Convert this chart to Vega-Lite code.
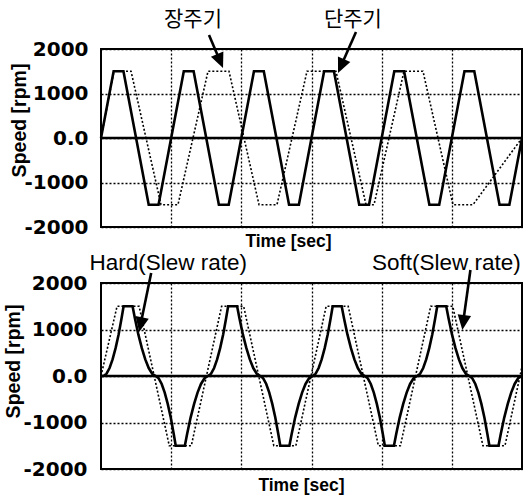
{
  "$schema": "https://vega.github.io/schema/vega-lite/v6.json",
  "background": "white",
  "padding": {"left": 2, "top": 7, "right": 0, "bottom": 0},
  "bounds": "flush",
  "spacing": 56,
  "config": {
    "view": {"stroke": "black", "strokeWidth": 2},
    "axis": {"domain": false, "ticks": false, "gridColor": "black", "gridDash": [2, 2], "gridWidth": 1.3, "gridOpacity": 1},
    "text": {"color": "black"}
  },
  "datasets": {
    "top": [
      {"t": 0, "v": 0, "s": "short"}, {"t": 0.18, "v": 1500, "s": "short"}, {"t": 0.32, "v": 1500, "s": "short"}, {"t": 0.68, "v": -1500, "s": "short"}, {"t": 0.82, "v": -1500, "s": "short"},
      {"t": 1.18, "v": 1500, "s": "short"}, {"t": 1.32, "v": 1500, "s": "short"}, {"t": 1.68, "v": -1500, "s": "short"}, {"t": 1.82, "v": -1500, "s": "short"},
      {"t": 2.18, "v": 1500, "s": "short"}, {"t": 2.32, "v": 1500, "s": "short"}, {"t": 2.68, "v": -1500, "s": "short"}, {"t": 2.82, "v": -1500, "s": "short"},
      {"t": 3.18, "v": 1500, "s": "short"}, {"t": 3.32, "v": 1500, "s": "short"}, {"t": 3.68, "v": -1500, "s": "short"}, {"t": 3.82, "v": -1500, "s": "short"},
      {"t": 4.18, "v": 1500, "s": "short"}, {"t": 4.32, "v": 1500, "s": "short"}, {"t": 4.68, "v": -1500, "s": "short"}, {"t": 4.82, "v": -1500, "s": "short"},
      {"t": 5.18, "v": 1500, "s": "short"}, {"t": 5.32, "v": 1500, "s": "short"}, {"t": 5.68, "v": -1500, "s": "short"}, {"t": 5.82, "v": -1500, "s": "short"},
      {"t": 6.0, "v": 0, "s": "short"},
      {"t": 0, "v": 0, "s": "long"}, {"t": 0.185, "v": 1500, "s": "long"}, {"t": 0.428, "v": 1500, "s": "long"}, {"t": 0.855, "v": -1500, "s": "long"},
      {"t": 1.097, "v": -1500, "s": "long"}, {"t": 1.525, "v": 1500, "s": "long"}, {"t": 1.824, "v": 1500, "s": "long"}, {"t": 2.252, "v": -1500, "s": "long"},
      {"t": 2.508, "v": -1500, "s": "long"}, {"t": 2.936, "v": 1500, "s": "long"}, {"t": 3.349, "v": 1500, "s": "long"}, {"t": 3.777, "v": -1500, "s": "long"},
      {"t": 3.891, "v": -1500, "s": "long"}, {"t": 4.318, "v": 1500, "s": "long"}, {"t": 4.589, "v": 1500, "s": "long"}, {"t": 5.016, "v": -1500, "s": "long"},
      {"t": 5.301, "v": -1500, "s": "long"}, {"t": 6.0, "v": 0, "s": "long"}
    ],
    "bottom": [
      {"t": 0.0, "v": 0, "s": "hard"}, {"t": 0.036, "v": 0, "s": "hard"}, {"t": 0.079, "v": 49, "s": "hard"}, {"t": 0.122, "v": 171, "s": "hard"}, {"t": 0.165, "v": 357, "s": "hard"}, {"t": 0.208, "v": 599, "s": "hard"}, {"t": 0.251, "v": 894, "s": "hard"}, {"t": 0.293, "v": 1240, "s": "hard"}, {"t": 0.322, "v": 1500, "s": "hard"},
      {"t": 0.450, "v": 1500, "s": "hard"}, {"t": 0.483, "v": 1240, "s": "hard"}, {"t": 0.532, "v": 894, "s": "hard"}, {"t": 0.582, "v": 599, "s": "hard"}, {"t": 0.631, "v": 357, "s": "hard"}, {"t": 0.680, "v": 171, "s": "hard"}, {"t": 0.730, "v": 49, "s": "hard"}, {"t": 0.779, "v": 0, "s": "hard"},
      {"t": 0.822, "v": -49, "s": "hard"}, {"t": 0.865, "v": -171, "s": "hard"}, {"t": 0.908, "v": -357, "s": "hard"}, {"t": 0.951, "v": -599, "s": "hard"}, {"t": 0.994, "v": -894, "s": "hard"}, {"t": 1.036, "v": -1240, "s": "hard"}, {"t": 1.065, "v": -1500, "s": "hard"},
      {"t": 1.195, "v": -1500, "s": "hard"}, {"t": 1.228, "v": -1240, "s": "hard"}, {"t": 1.277, "v": -894, "s": "hard"}, {"t": 1.327, "v": -599, "s": "hard"}, {"t": 1.376, "v": -357, "s": "hard"}, {"t": 1.425, "v": -171, "s": "hard"}, {"t": 1.475, "v": -49, "s": "hard"}, {"t": 1.524, "v": 0, "s": "hard"},
      {"t": 1.569, "v": 49, "s": "hard"}, {"t": 1.612, "v": 171, "s": "hard"}, {"t": 1.655, "v": 357, "s": "hard"}, {"t": 1.698, "v": 599, "s": "hard"}, {"t": 1.741, "v": 894, "s": "hard"}, {"t": 1.783, "v": 1240, "s": "hard"}, {"t": 1.812, "v": 1500, "s": "hard"},
      {"t": 1.940, "v": 1500, "s": "hard"}, {"t": 1.973, "v": 1240, "s": "hard"}, {"t": 2.022, "v": 894, "s": "hard"}, {"t": 2.072, "v": 599, "s": "hard"}, {"t": 2.121, "v": 357, "s": "hard"}, {"t": 2.170, "v": 171, "s": "hard"}, {"t": 2.220, "v": 49, "s": "hard"}, {"t": 2.269, "v": 0, "s": "hard"},
      {"t": 2.312, "v": -49, "s": "hard"}, {"t": 2.355, "v": -171, "s": "hard"}, {"t": 2.398, "v": -357, "s": "hard"}, {"t": 2.441, "v": -599, "s": "hard"}, {"t": 2.484, "v": -894, "s": "hard"}, {"t": 2.526, "v": -1240, "s": "hard"}, {"t": 2.555, "v": -1500, "s": "hard"},
      {"t": 2.685, "v": -1500, "s": "hard"}, {"t": 2.718, "v": -1240, "s": "hard"}, {"t": 2.767, "v": -894, "s": "hard"}, {"t": 2.817, "v": -599, "s": "hard"}, {"t": 2.866, "v": -357, "s": "hard"}, {"t": 2.915, "v": -171, "s": "hard"}, {"t": 2.965, "v": -49, "s": "hard"}, {"t": 3.014, "v": 0, "s": "hard"},
      {"t": 3.059, "v": 49, "s": "hard"}, {"t": 3.102, "v": 171, "s": "hard"}, {"t": 3.145, "v": 357, "s": "hard"}, {"t": 3.188, "v": 599, "s": "hard"}, {"t": 3.231, "v": 894, "s": "hard"}, {"t": 3.273, "v": 1240, "s": "hard"}, {"t": 3.302, "v": 1500, "s": "hard"},
      {"t": 3.430, "v": 1500, "s": "hard"}, {"t": 3.463, "v": 1240, "s": "hard"}, {"t": 3.512, "v": 894, "s": "hard"}, {"t": 3.562, "v": 599, "s": "hard"}, {"t": 3.611, "v": 357, "s": "hard"}, {"t": 3.660, "v": 171, "s": "hard"}, {"t": 3.710, "v": 49, "s": "hard"}, {"t": 3.759, "v": 0, "s": "hard"},
      {"t": 3.802, "v": -49, "s": "hard"}, {"t": 3.845, "v": -171, "s": "hard"}, {"t": 3.888, "v": -357, "s": "hard"}, {"t": 3.931, "v": -599, "s": "hard"}, {"t": 3.974, "v": -894, "s": "hard"}, {"t": 4.016, "v": -1240, "s": "hard"}, {"t": 4.045, "v": -1500, "s": "hard"},
      {"t": 4.175, "v": -1500, "s": "hard"}, {"t": 4.208, "v": -1240, "s": "hard"}, {"t": 4.257, "v": -894, "s": "hard"}, {"t": 4.307, "v": -599, "s": "hard"}, {"t": 4.356, "v": -357, "s": "hard"}, {"t": 4.405, "v": -171, "s": "hard"}, {"t": 4.455, "v": -49, "s": "hard"}, {"t": 4.504, "v": 0, "s": "hard"},
      {"t": 4.549, "v": 49, "s": "hard"}, {"t": 4.592, "v": 171, "s": "hard"}, {"t": 4.635, "v": 357, "s": "hard"}, {"t": 4.678, "v": 599, "s": "hard"}, {"t": 4.721, "v": 894, "s": "hard"}, {"t": 4.763, "v": 1240, "s": "hard"}, {"t": 4.792, "v": 1500, "s": "hard"},
      {"t": 4.920, "v": 1500, "s": "hard"}, {"t": 4.953, "v": 1240, "s": "hard"}, {"t": 5.002, "v": 894, "s": "hard"}, {"t": 5.052, "v": 599, "s": "hard"}, {"t": 5.101, "v": 357, "s": "hard"}, {"t": 5.150, "v": 171, "s": "hard"}, {"t": 5.200, "v": 49, "s": "hard"}, {"t": 5.249, "v": 0, "s": "hard"},
      {"t": 5.292, "v": -49, "s": "hard"}, {"t": 5.335, "v": -171, "s": "hard"}, {"t": 5.378, "v": -357, "s": "hard"}, {"t": 5.421, "v": -599, "s": "hard"}, {"t": 5.464, "v": -894, "s": "hard"}, {"t": 5.506, "v": -1240, "s": "hard"}, {"t": 5.535, "v": -1500, "s": "hard"},
      {"t": 5.665, "v": -1500, "s": "hard"}, {"t": 5.698, "v": -1240, "s": "hard"}, {"t": 5.747, "v": -894, "s": "hard"}, {"t": 5.797, "v": -599, "s": "hard"}, {"t": 5.846, "v": -357, "s": "hard"}, {"t": 5.895, "v": -171, "s": "hard"}, {"t": 5.945, "v": -49, "s": "hard"}, {"t": 5.994, "v": 0, "s": "hard"},
      {"t": 0.0, "v": 0, "s": "soft"}, {"t": 0.229, "v": 1500, "s": "soft"}, {"t": 0.543, "v": 1500, "s": "soft"}, {"t": 0.973, "v": -1500, "s": "soft"}, {"t": 1.287, "v": -1500, "s": "soft"},
      {"t": 1.719, "v": 1500, "s": "soft"}, {"t": 2.033, "v": 1500, "s": "soft"}, {"t": 2.463, "v": -1500, "s": "soft"}, {"t": 2.777, "v": -1500, "s": "soft"},
      {"t": 3.209, "v": 1500, "s": "soft"}, {"t": 3.523, "v": 1500, "s": "soft"}, {"t": 3.953, "v": -1500, "s": "soft"}, {"t": 4.267, "v": -1500, "s": "soft"},
      {"t": 4.699, "v": 1500, "s": "soft"}, {"t": 5.013, "v": 1500, "s": "soft"}, {"t": 5.443, "v": -1500, "s": "soft"}, {"t": 5.757, "v": -1500, "s": "soft"},
      {"t": 6.0, "v": 200, "s": "soft"}
    ]
  },
  "vconcat": [
    {
      "width": 421,
      "height": 178,
      "encoding": {
        "x": {"field": "t", "type": "quantitative", "scale": {"domain": [0, 6], "nice": false, "zero": false},
              "axis": {"values": [1, 2, 3, 4, 5], "labels": false, "title": "Time [sec]", "titleFont": "Liberation Sans", "titleFontSize": 17.5, "titleFontWeight": "bold", "titleColor": "black", "titleBaseline": "middle", "titleX": 187, "titleY": 14}},
        "y": {"field": "v", "type": "quantitative", "scale": {"domain": [-2000, 2000], "nice": false},
              "axis": {"values": [-2000, -1000, 0, 1000, 2000], "labelExpr": "datum.value == 0 ? '0.0' : '' + datum.value", "labelFont": "DejaVu Sans", "labelFontWeight": "bold", "labelFontSize": 20, "labelPadding": 13, "labelColor": "black",
                       "title": "Speed [rpm]", "titleFont": "Liberation Sans", "titleFontSize": 19.5, "titleFontWeight": "bold", "titleBaseline": "middle", "titleX": -82, "titleY": 71, "titleColor": "black"}}
      },
      "layer": [
        {"data": {"name": "top"}, "transform": [{"filter": "datum.s == 'long'"}], "mark": {"type": "line", "color": "black", "strokeWidth": 1.6, "strokeDash": [2, 2]}},
        {"data": {"name": "top"}, "transform": [{"filter": "datum.s == 'short'"}], "mark": {"type": "line", "color": "black", "strokeWidth": 2.6}},
        {"data": {"values": [{"v": 0}]}, "mark": {"type": "rule", "color": "black", "strokeWidth": 2.4}, "encoding": {"x": {"value": 0}, "x2": {"value": 421}}},
        {"data": {"values": [{"t": 1.311, "v": 2652, "label": "장주기"}, {"t": 3.591, "v": 2652, "label": "단주기"}]},
         "mark": {"type": "text", "font": "Noto Sans CJK KR", "fontSize": 21, "clip": false, "baseline": "middle"}, "encoding": {"text": {"field": "label"}}},
        {"data": {"values": [{"a": 1, "t": 1.539, "v": 2315}, {"a": 1, "t": 1.70, "v": 1720}, {"a": 2, "t": 3.634, "v": 2382}, {"a": 2, "t": 3.42, "v": 1620}]},
         "mark": {"type": "line", "color": "black", "strokeWidth": 2.6, "clip": false}, "encoding": {"detail": {"field": "a"}}},
        {"data": {"values": [{"t": 1.739, "v": 1573}]}, "mark": {"type": "point", "shape": "M0,0L-0.45,-1L0.45,-1Z", "filled": true, "color": "black", "opacity": 1, "size": 900, "angle": -23, "clip": false}},
        {"data": {"values": [{"t": 3.378, "v": 1461}]}, "mark": {"type": "point", "shape": "M0,0L-0.45,-1L0.45,-1Z", "filled": true, "color": "black", "opacity": 1, "size": 900, "angle": 24, "clip": false}}
      ]
    },
    {
      "width": 421,
      "height": 186,
      "encoding": {
        "x": {"field": "t", "type": "quantitative", "scale": {"domain": [0, 6], "nice": false, "zero": false},
              "axis": {"values": [1, 2, 3, 4, 5], "labels": false, "title": "Time [sec]", "titleFont": "Liberation Sans", "titleFontSize": 17.5, "titleFontWeight": "bold", "titleColor": "black", "titleBaseline": "middle", "titleX": 200, "titleY": 16}},
        "y": {"field": "v", "type": "quantitative", "scale": {"domain": [-2000, 2000], "nice": false},
              "axis": {"values": [-2000, -1000, 0, 1000, 2000], "labelExpr": "datum.value == 0 ? '0.0' : '' + datum.value", "labelFont": "DejaVu Sans", "labelFontWeight": "bold", "labelFontSize": 20, "labelPadding": 14, "labelColor": "black",
                       "title": "Speed [rpm]", "titleFont": "Liberation Sans", "titleFontSize": 19.5, "titleFontWeight": "bold", "titleBaseline": "middle", "titleX": -87.5, "titleY": 78, "titleColor": "black"}}
      },
      "layer": [
        {"data": {"name": "bottom"}, "transform": [{"filter": "datum.s == 'soft'"}], "mark": {"type": "line", "color": "black", "strokeWidth": 1.6, "strokeDash": [2, 2]}},
        {"data": {"name": "bottom"}, "transform": [{"filter": "datum.s == 'hard'"}], "mark": {"type": "line", "color": "black", "strokeWidth": 2.6}},
        {"data": {"values": [{"v": 0}]}, "mark": {"type": "rule", "color": "black", "strokeWidth": 2.4}, "encoding": {"x": {"value": 0}, "x2": {"value": 421}}},
        {"data": {"values": [{"t": 0.959, "v": 2430, "label": "Hard(Slew rate)"}, {"t": 4.921, "v": 2430, "label": "Soft(Slew rate)"}]},
         "mark": {"type": "text", "font": "Liberation Sans", "fontSize": 22.5, "clip": false, "baseline": "middle"}, "encoding": {"text": {"field": "label"}}},
        {"data": {"values": [{"a": 1, "t": 0.715, "v": 2215}, {"a": 1, "t": 0.57, "v": 1150}, {"a": 2, "t": 5.265, "v": 2280}, {"a": 2, "t": 5.165, "v": 1200}]},
         "mark": {"type": "line", "color": "black", "strokeWidth": 2.6, "clip": false}, "encoding": {"detail": {"field": "a"}}},
        {"data": {"values": [{"t": 0.544, "v": 946}]}, "mark": {"type": "point", "shape": "M0,0L-0.45,-1L0.45,-1Z", "filled": true, "color": "black", "opacity": 1, "size": 900, "angle": 11.5, "clip": false}},
        {"data": {"values": [{"t": 5.150, "v": 989}]}, "mark": {"type": "point", "shape": "M0,0L-0.45,-1L0.45,-1Z", "filled": true, "color": "black", "opacity": 1, "size": 900, "angle": 7.6, "clip": false}}
      ]
    }
  ]
}
